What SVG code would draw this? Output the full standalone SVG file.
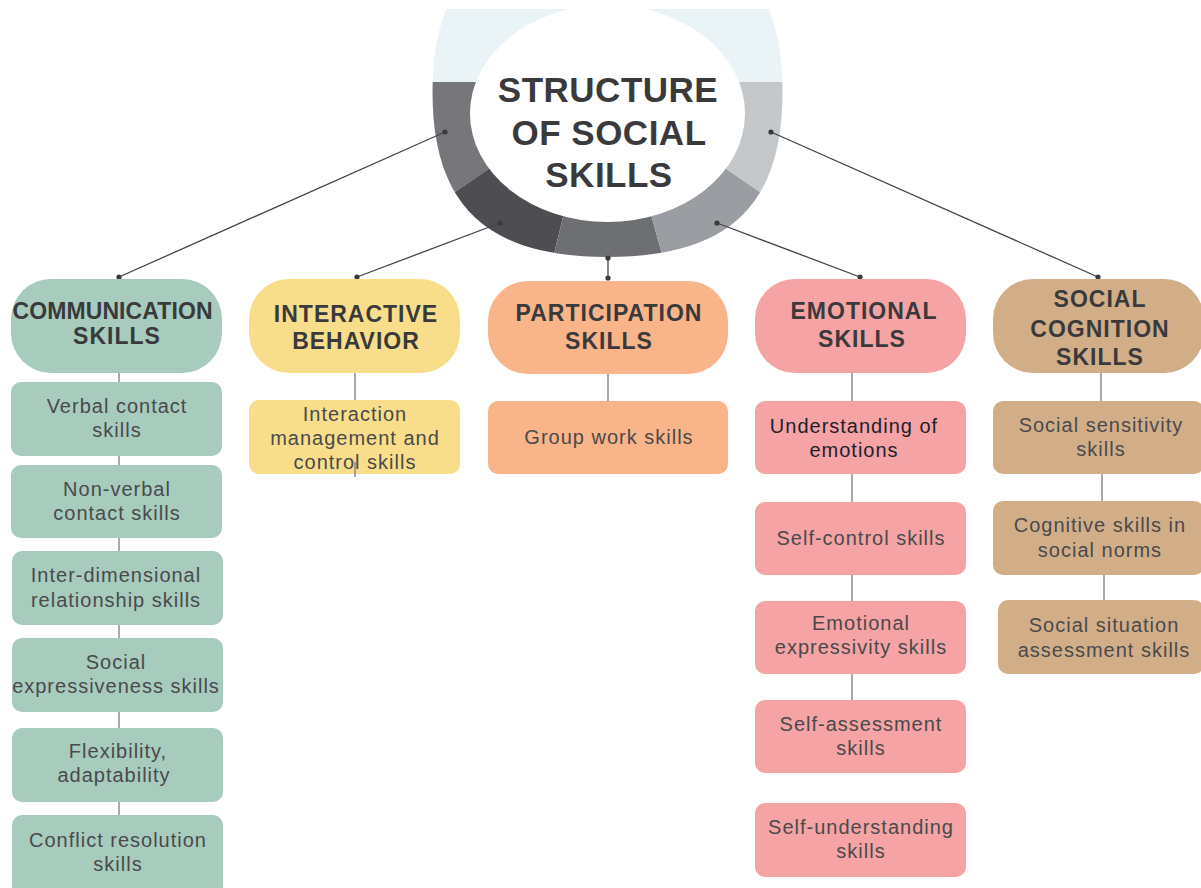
<svg xmlns="http://www.w3.org/2000/svg" width="1201" height="888" viewBox="0 0 1201 888">
  <style>
    .title { font-family: "Liberation Sans", Arial, sans-serif; font-weight: bold; font-size: 35px; fill: #3a3a3c; text-anchor: middle; letter-spacing: 0.5px; }
    .head { font-family: "Liberation Sans", Arial, sans-serif; font-weight: bold; font-size: 23px; fill: #3a3a3c; text-anchor: middle; letter-spacing: 1px; }
    .item { font-family: "Liberation Sans", Arial, sans-serif; font-size: 20px; fill: #4a4a4c; text-anchor: middle; letter-spacing: 1px; }
    .item.dark { fill: #1f1f2c; }
    .green { fill: #a7cbbd; }
    .yellow { fill: #f8de8a; }
    .orange { fill: #f9b489; }
    .pink { fill: #f5a3a4; }
    .tan { fill: #d2ae88; }
    .link { stroke: #444448; stroke-width: 1.3; fill: none; }
    .stem { stroke: #7c7c80; stroke-width: 1.3; fill: none; }
    .dot { fill: #3a3a3e; }
  </style>
  <defs>
    <!-- rounded (squircle-like) outline of the hub ring, cut flat at the top -->
    <clipPath id="ringOuter">
      <path d="M782.5,92 C782.5,205.9 728.3,257 607.5,257 C486.7,257 432.5,205.9 432.5,92 C432.5,-21.9 486.7,-73 607.5,-73 C728.3,-73 782.5,-21.9 782.5,92 Z"/>
    </clipPath>
  </defs>

  <rect width="1201" height="888" fill="#ffffff"/>

  <!-- central hub: segmented ring with title -->
  <g id="hub">
    <g clip-path="url(#ringOuter)">
      <polygon points="380,9 840,9 840,82 380,82" fill="#eaf3f5"/>
      <polygon points="380,82 560,82 607,130 525,144 411,222 380,250" fill="#77777b"/>
      <polygon points="525,144 607,130 579,151 543,299.5 380,300 380,250 411,222" fill="#4e4d52"/>
      <polygon points="579,151 607,130 636,160 672,290.5 543,299.5" fill="#6e6f73"/>
      <polygon points="607,130 690,144 804,222 840,300 672,300 672,290.5 636,160" fill="#9a9ea2"/>
      <polygon points="607,130 655,82 840,82 840,250 804,222 690,144" fill="#c4c8cb"/>
    </g>
    <path d="M470,113.5 A137.5,108.5 0 0 1 745,113.5 A137.5,108.5 0 0 1 470,113.5 Z" fill="#ffffff"/>
    <rect x="380" y="0" width="460" height="9" fill="#ffffff"/>
    <text class="title" x="608" y="102">STRUCTURE</text>
    <text class="title" x="609" y="145">OF SOCIAL</text>
    <text class="title" x="609" y="187">SKILLS</text>
  </g>

  <!-- connectors -->
  <g id="connectors">
    <line class="link" x1="445" y1="132" x2="119" y2="277"/>
    <line class="link" x1="500" y1="223" x2="357" y2="277"/>
    <line class="link" x1="608" y1="258" x2="608" y2="278"/>
    <line class="link" x1="717" y1="223" x2="860" y2="277"/>
    <line class="link" x1="771" y1="132" x2="1098" y2="277"/>
    <circle class="dot" cx="445" cy="132" r="2.6"/>
    <circle class="dot" cx="119" cy="277" r="2.6"/>
    <circle class="dot" cx="500" cy="223" r="2.6"/>
    <circle class="dot" cx="357" cy="277" r="2.6"/>
    <circle class="dot" cx="608" cy="258" r="2.6"/>
    <circle class="dot" cx="608" cy="278" r="2.6"/>
    <circle class="dot" cx="717" cy="223" r="2.6"/>
    <circle class="dot" cx="860" cy="277" r="2.6"/>
    <circle class="dot" cx="771" cy="132" r="2.6"/>
    <circle class="dot" cx="1098" cy="277" r="2.6"/>

    <!-- communication column -->
    <line class="stem" x1="119" y1="373" x2="119" y2="382"/>
    <line class="stem" x1="119" y1="456" x2="119" y2="465"/>
    <line class="stem" x1="119" y1="538" x2="119" y2="551"/>
    <line class="stem" x1="119" y1="625" x2="119" y2="638"/>
    <line class="stem" x1="119" y1="712" x2="119" y2="728"/>
    <line class="stem" x1="119" y1="802" x2="119" y2="815"/>
    <!-- interactive column -->
    <line class="stem" x1="355" y1="373" x2="355" y2="400"/>
    <!-- participation column -->
    <line class="stem" x1="608" y1="374" x2="608" y2="401"/>
    <!-- emotional column -->
    <line class="stem" x1="852" y1="373" x2="852" y2="401"/>
    <line class="stem" x1="852" y1="474" x2="852" y2="502"/>
    <line class="stem" x1="852" y1="575" x2="852" y2="601"/>
    <line class="stem" x1="852" y1="674" x2="852" y2="700"/>
    <!-- social cognition column -->
    <line class="stem" x1="1101" y1="373" x2="1101" y2="401"/>
    <line class="stem" x1="1102" y1="474" x2="1102" y2="501"/>
    <line class="stem" x1="1104" y1="575" x2="1104" y2="600"/>
  </g>

  <!-- category headers -->
  <g id="communication">
    <rect class="green" x="11" y="279" width="211" height="94" rx="40"/>
    <text class="head" x="113" y="319" textLength="201" lengthAdjust="spacing">COMMUNICATION</text>
    <text class="head" x="117" y="344">SKILLS</text>
  </g>
  <g id="interactive">
    <rect class="yellow" x="249" y="279" width="211" height="94" rx="40"/>
    <text class="head" x="356" y="322">INTERACTIVE</text>
    <text class="head" x="356" y="349">BEHAVIOR</text>
  </g>
  <g id="participation">
    <rect class="orange" x="488" y="281" width="240" height="93" rx="40"/>
    <text class="head" x="609" y="321">PARTICIPATION</text>
    <text class="head" x="609" y="349">SKILLS</text>
  </g>
  <g id="emotional">
    <rect class="pink" x="755" y="279" width="211" height="94" rx="40"/>
    <text class="head" x="864" y="319">EMOTIONAL</text>
    <text class="head" x="862" y="347">SKILLS</text>
  </g>
  <g id="social-cognition">
    <rect class="tan" x="993" y="279" width="211" height="94" rx="40"/>
    <text class="head" x="1100" y="307">SOCIAL</text>
    <text class="head" x="1100" y="337">COGNITION</text>
    <text class="head" x="1100" y="365">SKILLS</text>
  </g>

  <!-- communication skills -->
  <g id="verbal-contact">
    <rect class="green" x="11" y="382" width="211" height="74" rx="10"/>
    <text class="item" x="117" y="413">Verbal contact</text>
    <text class="item" x="117" y="437">skills</text>
  </g>
  <g id="non-verbal-contact">
    <rect class="green" x="11" y="465" width="211" height="73" rx="10"/>
    <text class="item" x="117" y="496">Non-verbal</text>
    <text class="item" x="117" y="520">contact skills</text>
  </g>
  <g id="inter-dimensional">
    <rect class="green" x="12" y="551" width="211" height="74" rx="10"/>
    <text class="item" x="116" y="582">Inter-dimensional</text>
    <text class="item" x="116" y="607">relationship skills</text>
  </g>
  <g id="social-expressiveness">
    <rect class="green" x="12" y="638" width="211" height="74" rx="10"/>
    <text class="item" x="116" y="669">Social</text>
    <text class="item" x="116" y="693">expressiveness skills</text>
  </g>
  <g id="flexibility">
    <rect class="green" x="12" y="728" width="211" height="74" rx="10"/>
    <text class="item" x="118" y="758">Flexibility,</text>
    <text class="item" x="114" y="782">adaptability</text>
  </g>
  <g id="conflict-resolution">
    <rect class="green" x="12" y="815" width="211" height="80" rx="10"/>
    <text class="item" x="118" y="847">Conflict resolution</text>
    <text class="item" x="118" y="871">skills</text>
  </g>

  <!-- interactive behavior -->
  <g id="interaction-management">
    <rect class="yellow" x="249" y="400" width="211" height="74" rx="10"/>
    <text class="item" x="355" y="421">Interaction</text>
    <text class="item" x="355" y="445">management and</text>
    <text class="item" x="355" y="469">control skills</text>
    <line class="stem" x1="355" y1="462" x2="355" y2="477"/>
  </g>

  <!-- participation skills -->
  <g id="group-work">
    <rect class="orange" x="488" y="401" width="240" height="73" rx="10"/>
    <text class="item" x="609" y="444">Group work skills</text>
  </g>

  <!-- emotional skills -->
  <g id="understanding-emotions">
    <rect class="pink" x="755" y="401" width="211" height="73" rx="10"/>
    <text class="item dark" x="854" y="433">Understanding of</text>
    <text class="item dark" x="854" y="457">emotions</text>
  </g>
  <g id="self-control">
    <rect class="pink" x="755" y="502" width="211" height="73" rx="10"/>
    <text class="item" x="861" y="545">Self-control skills</text>
  </g>
  <g id="emotional-expressivity">
    <rect class="pink" x="755" y="601" width="211" height="73" rx="10"/>
    <text class="item" x="861" y="630">Emotional</text>
    <text class="item" x="861" y="654">expressivity skills</text>
  </g>
  <g id="self-assessment">
    <rect class="pink" x="755" y="700" width="211" height="73" rx="10"/>
    <text class="item" x="861" y="731">Self-assessment</text>
    <text class="item" x="861" y="755">skills</text>
  </g>
  <g id="self-understanding">
    <rect class="pink" x="755" y="803" width="211" height="74" rx="10"/>
    <text class="item" x="861" y="834">Self-understanding</text>
    <text class="item" x="861" y="858">skills</text>
  </g>

  <!-- social cognition skills -->
  <g id="social-sensitivity">
    <rect class="tan" x="993" y="401" width="211" height="73" rx="10"/>
    <text class="item" x="1101" y="432">Social sensitivity</text>
    <text class="item" x="1101" y="456">skills</text>
  </g>
  <g id="cognitive-norms">
    <rect class="tan" x="993" y="501" width="211" height="74" rx="10"/>
    <text class="item" x="1100" y="532">Cognitive skills in</text>
    <text class="item" x="1100" y="557">social norms</text>
  </g>
  <g id="situation-assessment">
    <rect class="tan" x="998" y="600" width="206" height="74" rx="10"/>
    <text class="item" x="1104" y="632">Social situation</text>
    <text class="item" x="1104" y="657">assessment skills</text>
  </g>
</svg>
